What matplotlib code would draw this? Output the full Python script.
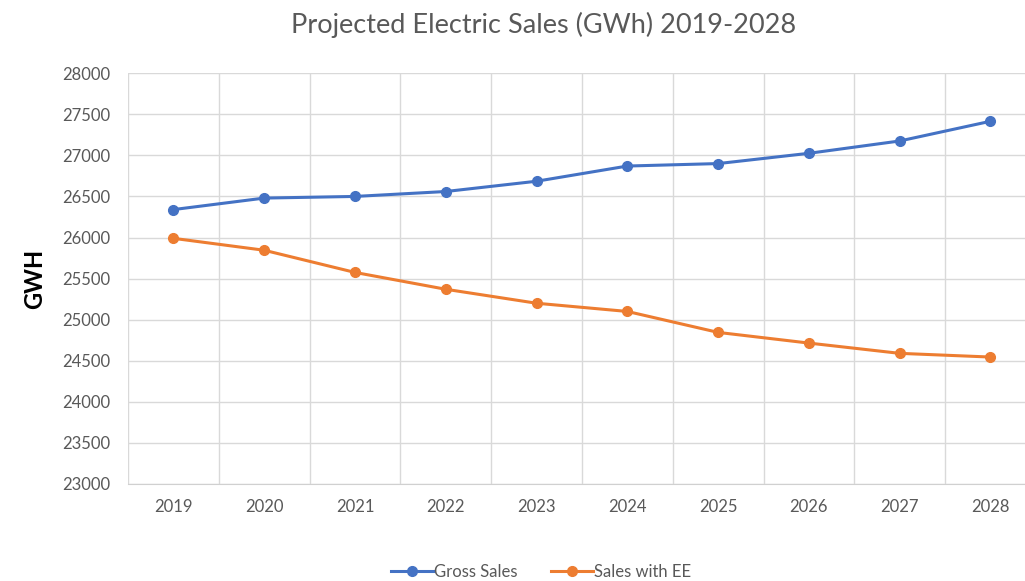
import matplotlib.pyplot as plt
import numpy as np

plt.rcParams['font.family'] = ['Lato', 'DejaVu Sans']

years = ['2019', '2020', '2021', '2022', '2023', '2024', '2025', '2026', '2027', '2028']
gross_sales = [26340, 26480, 26500, 26560, 26685, 26870, 26900, 27025, 27175, 27415]
sales_with_ee = [25990, 25845, 25575, 25370, 25200, 25100, 24845, 24715, 24590, 24545]

fig = plt.figure(figsize=(10.25, 5.81), dpi=100)
ax = fig.add_axes([0.1249, 0.167, 0.8857, 0.707])

x = np.arange(len(years))
ax.plot(x, gross_sales, '-o', color='#4472C4', lw=2.2, ms=7, label='Gross Sales', clip_on=False)
ax.plot(x, sales_with_ee, '-o', color='#ED7D31', lw=2.2, ms=7, label='Sales with EE', clip_on=False)

ax.set_xlim(-0.5, len(years) - 0.5)
ax.set_ylim(23000, 28000)
ax.set_yticks(np.arange(23000, 28001, 500))
ax.set_xticks(x)
ax.set_xticklabels(years)
ax.set_xticks(np.arange(-0.5, len(years)), minor=True)

ax.grid(True, which='major', axis='y', color='#D9D9D9', lw=1)
ax.grid(True, which='minor', axis='x', color='#D9D9D9', lw=1)
ax.set_axisbelow(True)
for s in ['top', 'right', 'left']:
    ax.spines[s].set_visible(False)
ax.spines['bottom'].set_color('#D0D0D0')
ax.tick_params(which='both', length=0)
ax.tick_params(axis='both', labelsize=12, labelcolor='#595959')
ax.tick_params(axis='x', pad=11)
ax.tick_params(axis='y', pad=13)

ax.set_ylabel('GWH', fontsize=17, fontweight='bold', color='black', labelpad=11)
fig.text(0.53, 0.957, 'Projected Electric Sales (GWh) 2019-2028', ha='center', va='center',
         fontsize=19.5, color='#595959')

fig.legend(loc='center', bbox_to_anchor=(0.528, 0.015), ncol=2, frameon=False,
           fontsize=12, labelcolor='#595959', handlelength=2.5, handletextpad=0.1,
           columnspacing=2.0)

fig.savefig('out.png', dpi=100)
